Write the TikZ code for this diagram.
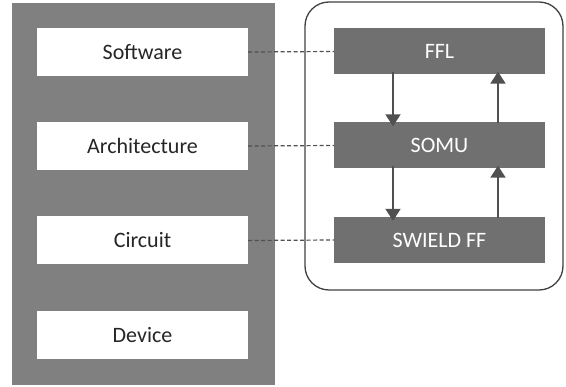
\documentclass[tikz,border=0pt]{standalone}
\usepackage{fontspec}
\setmainfont{Carlito}
\usetikzlibrary{arrows.meta}
\definecolor{panelgray}{RGB}{128,128,128}
\definecolor{blockgray}{RGB}{112,112,112}
\definecolor{linegray}{RGB}{80,80,80}
\tikzset{
  flowtip/.tip={Triangle[length=12pt,width=15pt]},
}
\begin{document}
\begin{tikzpicture}[x=1pt,y=-1pt,
  layer/.style={draw=none,fill=white,minimum width=211pt,minimum height=48pt,
    inner sep=0pt,font=\fontsize{22}{26}\selectfont,text=black!85},
  block/.style={draw=none,fill=blockgray,minimum width=211pt,minimum height=46pt,
    inner sep=0pt,font=\fontsize{22}{26}\selectfont,text=white},
  link/.style={draw=linegray,dashed,dash pattern=on 4pt off 2.5pt,line width=1.2pt},
  flow/.style={draw=linegray,fill=linegray,line width=2pt,-flowtip}]
\useasboundingbox (0,0) rectangle (566,387);
% stack of abstraction layers
\fill[panelgray] (12,3) rectangle (275,385);
\node[layer] (sw) at (142.5,52) {Software};
\node[layer] (ar) at (142.5,146) {Architecture};
\node[layer] (ci) at (142.5,240.5) {Circuit};
\node[layer] (de) at (142.5,335) {Device};
% framework container
\draw[draw=black!75,line width=1.3pt,rounded corners=24pt] (305,2) rectangle (563,290);
\node[block] (ffl) at (439.5,51.5) {FFL};
\node[block] (somu) at (439.5,145.5) {SOMU};
\node[block] (swf) at (439.5,240) {SWIELD FF};
% dashed mapping lines
\draw[link] (sw.east) -- (ffl.west);
\draw[link] (ar.east) -- (somu.west);
\draw[link] (ci.east) -- (swf.west);
% information flow between blocks
\coordinate (d1) at (393,0);
\coordinate (u1) at (498,0);
\draw[flow] ([yshift=3pt]ffl.south -| d1) -- ([yshift=-4pt]somu.north -| d1);
\draw[flow] ([yshift=-1pt]swf.north -| u1) -- ([yshift=3pt]somu.south -| u1);
\draw[flow] ([yshift=3pt]somu.south -| d1) -- ([yshift=-4pt]swf.north -| d1);
\draw[flow] ([yshift=-1pt]somu.north -| u1) -- ([yshift=3pt]ffl.south -| u1);
\end{tikzpicture}
\end{document}
